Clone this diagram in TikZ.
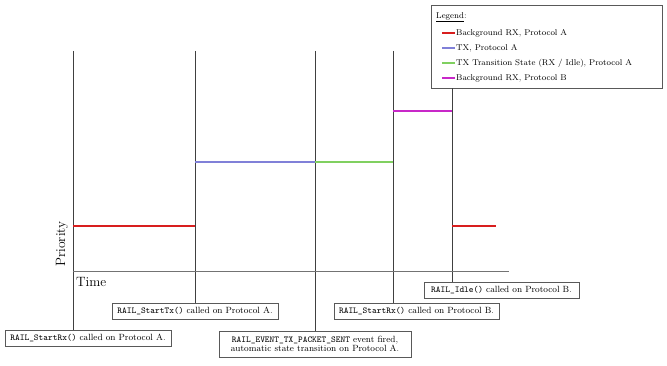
\documentclass[tikz,border=0pt]{standalone}
\usepackage{tikz}
\definecolor{cred}{HTML}{D81E1E}
\definecolor{cblue}{HTML}{8080D8}
\definecolor{cgreen}{HTML}{80D060}
\definecolor{cmag}{HTML}{C828C8}
\begin{document}
\begin{tikzpicture}[x=1pt,y=-1pt,
  vline/.style={draw=black!75, line width=0.8pt},
  seg/.style={line width=1.2pt},
  callbox/.style={draw=black!65, line width=0.7pt, fill=white, minimum height=16pt, inner sep=1pt, font=\fontsize{9}{10.5}\selectfont, align=center},
  legtext/.style={anchor=west, inner sep=0pt, font=\fontsize{8.4}{10}\selectfont},
  big/.style={font=\fontsize{13.5}{15}\selectfont, inner sep=0pt}]
\useasboundingbox (0,0) rectangle (667,366);

% boxes
\node[callbox, minimum width=166pt] (b1) at (88,338) {\texttt{RAIL\_StartRx()} called on Protocol A.};
\node[callbox, minimum width=166pt] (b2) at (195,311) {\texttt{RAIL\_StartTx()} called on Protocol A.};
\node[callbox, minimum width=192pt, minimum height=26pt] (b3) at (315,344) {\texttt{RAIL\_EVENT\_TX\_PACKET\_SENT} event fired,\\[-2pt] automatic state transition on Protocol A.};
\node[callbox, minimum width=165pt] (b4) at (416.5,311) {\texttt{RAIL\_StartRx()} called on Protocol B.};
\node[callbox, minimum width=155pt] (b5) at (501.5,290) {\texttt{RAIL\_Idle()} called on Protocol B.};

% legend
\node[draw=black!65, line width=0.7pt, minimum width=231pt, minimum height=83pt, inner sep=0pt] (leg) at (546.5,46.5) {};
\node[legtext] (lt) at (436,17) {\underline{Legend}:};
\coordinate (l1a) at (442,33); \coordinate (l1b) at (455,33);
\coordinate (l2a) at (442,48); \coordinate (l2b) at (455,48);
\coordinate (l3a) at (442,63); \coordinate (l3b) at (455,63);
\coordinate (l4a) at (442,78); \coordinate (l4b) at (455,78);
\draw[seg, cred] (l1a) -- (l1b);
\draw[seg, cblue] (l2a) -- (l2b);
\draw[seg, cgreen] (l3a) -- (l3b);
\draw[seg, cmag] (l4a) -- (l4b);
\node[legtext] (e1) at (456,33) {Background RX, Protocol A};
\node[legtext] (e2) at (456,48) {TX, Protocol A};
\node[legtext] (e3) at (456,63) {TX Transition State (RX / Idle), Protocol A};
\node[legtext] (e4) at (456,78) {Background RX, Protocol B};

% vertical event lines
\coordinate (t1) at (73,51);
\coordinate (t2) at (195,51);
\coordinate (t3) at (315,51);
\coordinate (t4) at (393,51);
\coordinate (t5) at (452,88);
\draw[vline] (t1) -- (t1 |- b1.north);
\draw[vline] (t2) -- (t2 |- b2.north);
\draw[vline] (t3) -- (t3 |- b3.north);
\draw[vline] (t4) -- (t4 |- b4.north);
\draw[vline] (t5 |- leg.south) -- (t5 |- b5.north);

% time axis
\coordinate (ax0) at (73,271);
\coordinate (ax1) at (509,271);
\draw[draw=black!55, line width=0.8pt] (ax0) -- (ax1);
\node[big, anchor=base west] (time) at (76,287) {Time};
\node[big, rotate=90] (prio) at (62,244) {Priority};

% priority segments
\coordinate (r1a) at (73,226); \coordinate (r1b) at (195,226);
\coordinate (bl1) at (195,162); \coordinate (bl2) at (315,162);
\coordinate (g2) at (393,162);
\coordinate (m1) at (393,111); \coordinate (m2) at (452,111);
\coordinate (r2a) at (452,226); \coordinate (r2b) at (496,226);
\draw[seg, cred] (r1a) -- (r1b);
\draw[seg, cblue] (bl1) -- (bl2);
\draw[seg, cgreen] (bl2) -- (g2);
\draw[seg, cmag] (m1) -- (m2);
\draw[seg, cred] (r2a) -- (r2b);
\end{tikzpicture}
\end{document}
